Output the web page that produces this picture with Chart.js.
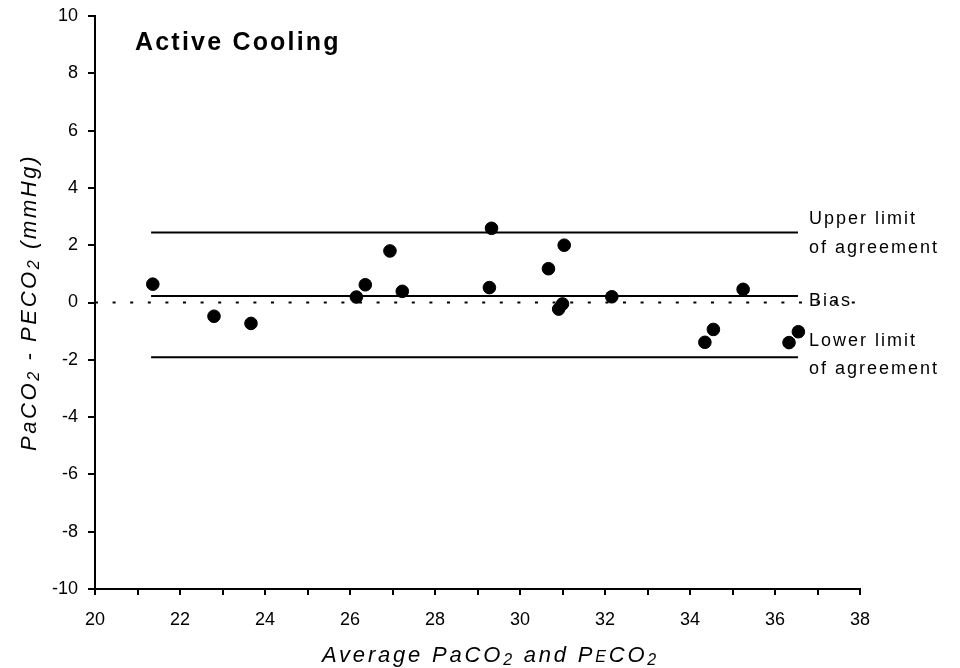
<!DOCTYPE html>
<html>
<head>
<meta charset="utf-8">
<script src="https://cdn.jsdelivr.net/npm/chart.js@4.4.1/dist/chart.umd.min.js"></script>
<style>
  html, body { margin: 0; padding: 0; background: #fff; }
  canvas { display: block; }
</style>
</head>
<body>
<canvas id="baChart" width="960" height="668"></canvas>
<script>
// average of PaCO2 and PECO2 (x) and their difference (y)
const avgValues  = [21.36, 22.80, 23.67, 26.15, 26.36, 26.94, 27.23, 29.28, 29.33, 30.67, 31.04, 31.00, 30.91, 32.16, 34.35, 34.55, 35.25, 36.33, 36.55];
const diffValues = [0.64, -0.48, -0.73, 0.19, 0.62, 1.80, 0.39, 0.52, 2.59, 1.18, 2.00, -0.05, -0.23, 0.20, -1.39, -0.94, 0.46, -1.40, -1.02];

// limits of agreement
const biasValue = 0.23;
const upperLimit = 2.44;
const lowerLimit = -1.91;
const limitRange = [21.32, 36.54];
const zeroRange = [20, 38];

const xRange = [20, 38];
const yRange = [-10, 10];

const FONT = "'Liberation Sans', Arial, sans-serif";

function hLine(y, range) {
  return range.map(x => ({ x, y }));
}

// rich text: segments of {t, small, sub}, centred on x
function drawRich(ctx, segs, x, y, size, spacing) {
  ctx.save();
  ctx.letterSpacing = spacing + "px";
  const fontFor = s => "italic " + (s.small ? Math.round(size * 0.72) : size) + "px " + FONT;
  let total = 0;
  const widths = segs.map(s => {
    ctx.font = fontFor(s);
    const w = ctx.measureText(s.t).width;
    total += w;
    return w;
  });
  let cx = x - total / 2;
  segs.forEach((s, i) => {
    ctx.font = fontFor(s);
    const dy = s.sub ? size * 0.12 : 0;
    ctx.fillText(s.t, cx, y + dy);
    cx += widths[i];
  });
  ctx.restore();
}

const annotate = {
  id: "annotate",
  afterDraw(chart) {
    const { ctx, scales: { x, y } } = chart;
    ctx.save();
    ctx.fillStyle = "#000";
    ctx.textBaseline = "alphabetic";
    ctx.textAlign = "left";

    // panel title
    ctx.font = "bold 25px " + FONT;
    ctx.letterSpacing = "2.2px";
    ctx.fillText("Active Cooling", 135, 50);

    // line labels
    ctx.font = "18px " + FONT;
    ctx.letterSpacing = "2px";
    const lx = 809;
    const yu = y.getPixelForValue(upperLimit);
    const yb = y.getPixelForValue(biasValue);
    const yl = y.getPixelForValue(lowerLimit);
    ctx.fillText("Upper limit", lx, yu - 9);
    ctx.fillText("of agreement", lx, yu + 20);
    ctx.fillText("Bias", lx, yb + 10);
    ctx.fillText("Lower limit", lx, yl - 11);
    ctx.fillText("of agreement", lx, yl + 17);
    ctx.letterSpacing = "0px";

    // x title
    drawRich(ctx, [
      { t: "Average PaCO" }, { t: "2", small: true, sub: true },
      { t: " and P" }, { t: "E", small: true }, { t: "CO" }, { t: "2", small: true, sub: true }
    ], (x.left + x.right) / 2 + 13, 662, 22, 2.8);

    // y title
    ctx.translate(36, (y.top + y.bottom) / 2);
    ctx.rotate(-Math.PI / 2);
    drawRich(ctx, [
      { t: "PaCO" }, { t: "2", small: true, sub: true },
      { t: " - PECO" }, { t: "2", small: true, sub: true },
      { t: " (mmHg)" }
    ], 0, 0, 22, 2.6);
    ctx.restore();
  }
};

const lineStyle = {
  type: "line",
  borderColor: "#000",
  borderWidth: 2,
  pointRadius: 0,
  fill: false
};

new Chart(document.getElementById("baChart"), {
  type: "scatter",
  data: {
    datasets: [
      { ...lineStyle, data: hLine(0, zeroRange), borderDash: [3, 14.6] },
      { ...lineStyle, data: hLine(upperLimit, limitRange) },
      { ...lineStyle, data: hLine(biasValue, limitRange) },
      { ...lineStyle, data: hLine(lowerLimit, limitRange) },
      {
        data: avgValues.map((v, i) => ({ x: v, y: diffValues[i] })),
        backgroundColor: "#000",
        borderColor: "#000",
        pointRadius: 6.3,
        pointHoverRadius: 6.3
      }
    ]
  },
  options: {
    responsive: false,
    animation: false,
    layout: { padding: { top: 16, right: 100, left: 0, bottom: 0 } },
    plugins: { legend: { display: false }, tooltip: { enabled: false } },
    scales: {
      x: {
        type: "linear",
        min: xRange[0],
        max: xRange[1],
        afterFit: s => { s.height = 79; s.paddingLeft = 0; s.paddingRight = 0; },
        grid: { display: true, drawOnChartArea: false, drawTicks: true, tickLength: 6, color: "#000", lineWidth: 2 },
        border: { display: true, color: "#000", width: 2 },
        ticks: {
          stepSize: 1,
          autoSkip: false,
          maxRotation: 0,
          padding: 14,
          color: "#000",
          font: { family: FONT, size: 18 },
          callback: v => (v % 2 === 0 ? v : "")
        }
      },
      y: {
        type: "linear",
        min: yRange[0],
        max: yRange[1],
        afterFit: s => { s.width = 95; s.paddingTop = 0; s.paddingBottom = 0; },
        grid: { display: true, drawOnChartArea: false, drawTicks: true, tickLength: 7, color: "#000", lineWidth: 2 },
        border: { display: true, color: "#000", width: 2 },
        ticks: {
          stepSize: 2,
          padding: 10,
          color: "#000",
          font: { family: FONT, size: 18 }
        }
      }
    }
  },
  plugins: [annotate]
});
</script>
</body>
</html>
